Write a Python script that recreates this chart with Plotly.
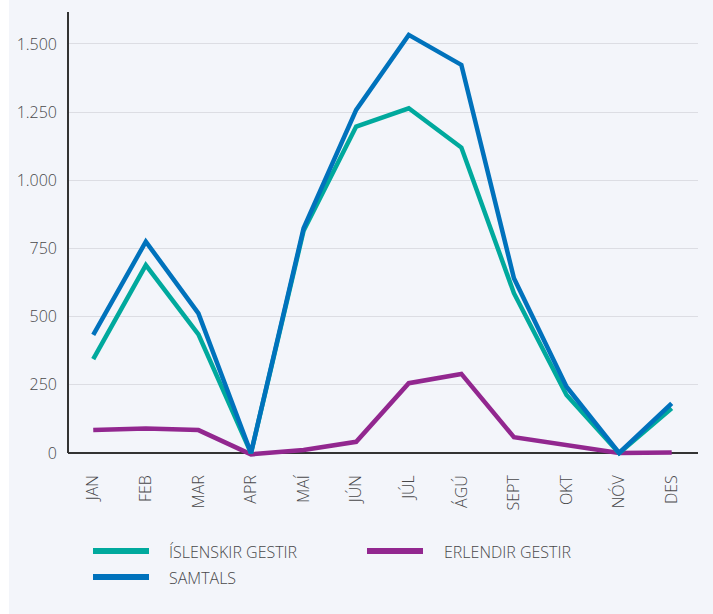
import plotly.graph_objects as go

# Monthly guest counts
months = ["JAN", "FEB", "MAR", "APR", "MAÍ", "JÚN", "JÚL", "ÁGÚ", "SEPT", "OKT", "NÓV", "DES"]
islenskir = [344, 689, 435, 0, 815, 1197, 1264, 1120, 586, 213, 0, 164]
erlendir = [84, 90, 84, -5, 11, 41, 256, 290, 58, 29, 0, 2]
samtals = [433, 775, 512, 0, 824, 1258, 1533, 1423, 641, 243, 0, 182]

y_ticks = [0, 250, 500, 750, 1000, 1250, 1500]

TEAL = "#00a99d"
BLUE = "#0072bc"
PURPLE = "#92278f"
TEXT = "#48484a"
BG = "#f3f5fa"
FONT = "Open Sans"
WEIGHT = 300

fig = go.Figure()
fig.add_trace(go.Scatter(x=months, y=erlendir, mode="lines", name="ERLENDIR GESTIR",
                         line=dict(color=PURPLE, width=4.5), showlegend=False))
fig.add_trace(go.Scatter(x=months, y=islenskir, mode="lines", name="ÍSLENSKIR GESTIR",
                         line=dict(color=TEAL, width=4.5), showlegend=False))
fig.add_trace(go.Scatter(x=months, y=samtals, mode="lines", name="SAMTALS",
                         line=dict(color=BLUE, width=4.5), showlegend=False))

W, H = 713, 614
L, R, T, B = 68, 15, 12, 149
pw, ph = W - L - R, H - T - B


def px_x(p):
    return (p - L) / pw


def px_y(p):
    return (H - B - p) / ph


shapes = [
    # white strip along the left edge
    dict(type="rect", xref="paper", yref="paper", x0=px_x(-5), x1=px_x(9),
         y0=px_y(H + 5), y1=px_y(-5), fillcolor="white", line=dict(width=0), layer="below"),
    # vertical axis line from zero up to the top
    dict(type="line", xref="paper", yref="paper", x0=0, x1=0, y0=px_y(453), y1=1,
         line=dict(color="#333333", width=2)),
]

# legend drawn as line swatches with labels
legend_items = [
    ("ÍSLENSKIR GESTIR", TEAL, 93, 149, 551, 167),
    ("SAMTALS", BLUE, 93, 149, 577, 167),
    ("ERLENDIR GESTIR", PURPLE, 367, 423, 551, 442),
]
annotations = []
for label, color, x0, x1, yy, tx in legend_items:
    shapes.append(dict(type="line", xref="paper", yref="paper", x0=px_x(x0), x1=px_x(x1),
                       y0=px_y(yy), y1=px_y(yy), line=dict(color=color, width=6)))
    annotations.append(dict(text=label, xref="paper", yref="paper", x=px_x(tx), y=px_y(yy + 1),
                            xanchor="left", yanchor="middle", showarrow=False,
                            font=dict(family=FONT, size=16, color=TEXT, weight=WEIGHT)))

tick_font = dict(family=FONT, size=16, color=TEXT, weight=WEIGHT)

fig.update_layout(
    width=W, height=H,
    margin=dict(l=L, r=R, t=T, b=B),
    paper_bgcolor=BG, plot_bgcolor=BG,
    separators=",.",
    font=dict(family=FONT, size=16, color=TEXT),
    shapes=shapes,
    annotations=annotations,
    xaxis=dict(range=[-0.48, 11.5], tickangle=-90, showgrid=False, showline=False,
               zeroline=False, ticks="", ticklabelstandoff=6, tickfont=tick_font),
    yaxis=dict(range=[-44, 1617], tickvals=y_ticks, tickformat=",d",
               showgrid=True, gridcolor="#dcdde3", gridwidth=1,
               zeroline=True, zerolinecolor="#333333", zerolinewidth=2,
               showline=False, ticks="", ticklabelstandoff=10, tickfont=tick_font),
)

fig.write_html("out.html")
